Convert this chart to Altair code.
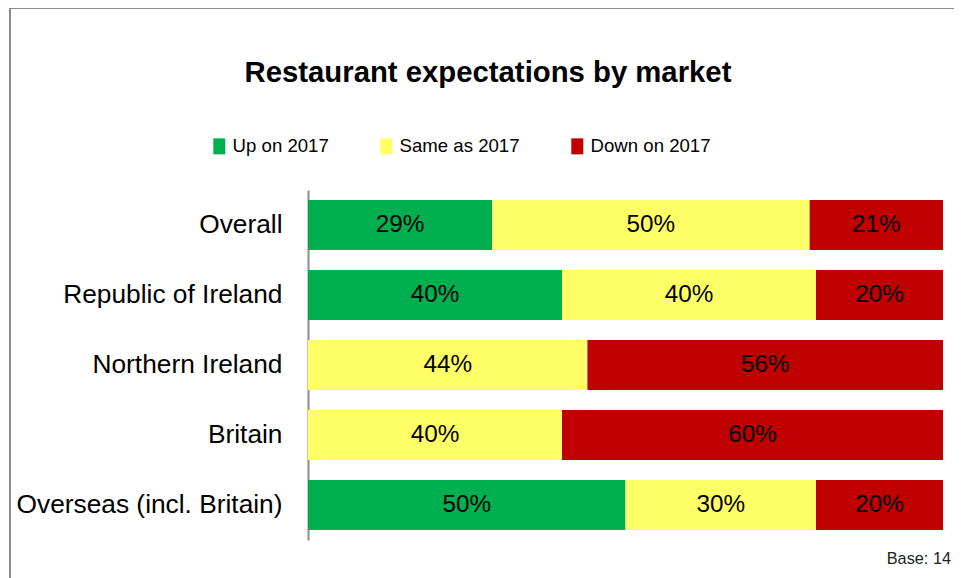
import altair as alt
import pandas as pd

markets = ["Overall", "Republic of Ireland", "Northern Ireland", "Britain", "Overseas (incl. Britain)"]
up = [29, 40, 0, 0, 50]
same = [50, 40, 44, 40, 30]
down = [21, 20, 56, 60, 20]
series = ["Up on 2017", "Same as 2017", "Down on 2017"]
colors = ["#00B050", "#FFFF66", "#C00000"]
title_text = "Restaurant expectations by market"
note = ["Base: 14"]

FONT = "Liberation Sans"
W, H = 944, 570

rows = []
for i, m in enumerate(markets):
    for j, (s, vals) in enumerate(zip(series, [up, same, down])):
        if vals[i] > 0:
            rows.append({"market": m, "series": s, "order": j, "value": vals[i]})
df = pd.DataFrame(rows)

xscale = alt.Scale(domain=[0, 100], range=[298, 933])
yscale = alt.Scale(domain=markets, range=[182, 532], paddingInner=0.2857, paddingOuter=0.143)

base = alt.Chart(df).transform_stack(
    stack="value", groupby=["market"], as_=["x0", "x1"],
    sort=[alt.SortField("order", order="ascending")]
).transform_calculate(
    mid="(datum.x0 + datum.x1) / 2", label="datum.value + '%'"
)

yenc = alt.Y(
    "market:N", scale=yscale, sort=markets, title=None,
    axis=alt.Axis(offset=-298, ticks=False, tickSize=0, labelPadding=26,
                  labelFontSize=26.3, labelFont=FONT, labelColor="black",
                  domainColor="#8c8c8c", domainWidth=2, labelLimit=400)
)

bars = base.mark_bar().encode(
    x=alt.X("x0:Q", scale=xscale, axis=None),
    x2="x1:Q",
    y=yenc,
    color=alt.Color(
        "series:N",
        scale=alt.Scale(domain=series, range=colors),
        legend=alt.Legend(
            orient="none", legendX=200, legendY=129, direction="horizontal",
            title=None, symbolType="M-0.75,-1H0.75V1H-0.75Z", symbolSize=256,
            labelFontSize=18.6, labelFont=FONT, labelColor="black", labelOffset=4,
            columnPadding=48, padding=0, symbolStrokeWidth=0, symbolOpacity=1,
        ),
    ),
)

labels = base.mark_text(fontSize=24.3, font=FONT, color="black", baseline="middle").encode(
    x=alt.X("mid:Q", scale=xscale, axis=None),
    y=yenc,
    text="label:N",
)

note_layer = alt.Chart(pd.DataFrame({"note": note})).mark_text(
    fontSize=16.3, font=FONT, color="#222222", align="right", baseline="alphabetic"
).encode(
    x=alt.value(941), y=alt.value(556), text="note:N"
)

frame_df = pd.DataFrame({"edge": ["frame"]})
top_edge = alt.Chart(frame_df).mark_rule(color="#8c8c8c", strokeWidth=2).encode(
    x=alt.value(0), x2=alt.value(W), y=alt.value(0)
)
left_edge = alt.Chart(frame_df).mark_rule(color="#8c8c8c", strokeWidth=2).encode(
    x=alt.value(0), y=alt.value(0), y2=alt.value(H)
)

chart = alt.layer(top_edge, left_edge, bars, labels, note_layer).properties(
    width=W, height=H,
    autosize=alt.AutoSizeParams(type="none"),
    padding={"left": 2, "top": 0, "right": 0, "bottom": 0},
    title=alt.TitleParams(
        text=title_text, anchor="middle", frame="group", offset=0, dy=104, dx=6,
        baseline="alphabetic", fontSize=29.3, font=FONT, fontWeight="bold", color="black",
    ),
).configure_view(
    stroke=None
).configure_axis(grid=False)

chart.save("out.html", embed_options={"renderer": "svg", "actions": False})
